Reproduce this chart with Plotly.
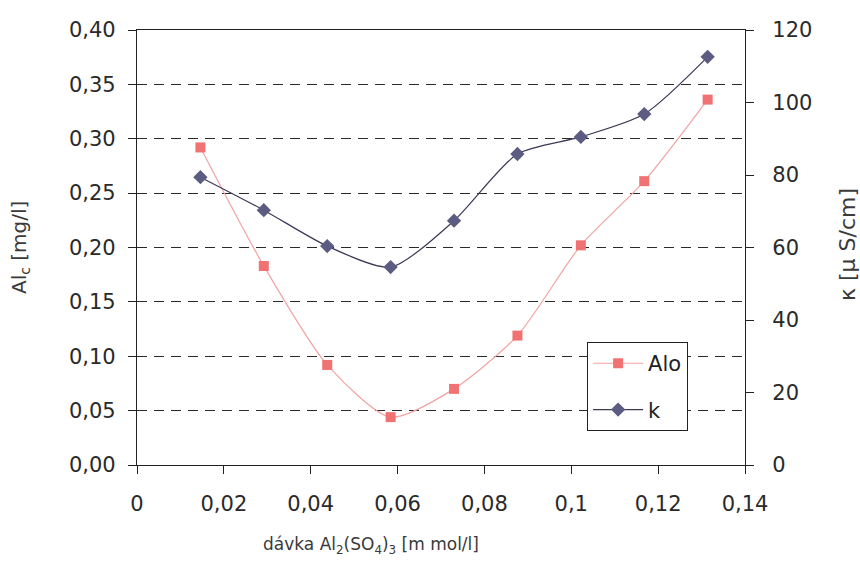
import plotly.graph_objects as go

dose = [0.0146, 0.0292, 0.0438, 0.0584, 0.0730, 0.0876, 0.1022, 0.1168, 0.1314]
alo = [0.292, 0.183, 0.092, 0.044, 0.070, 0.119, 0.202, 0.261, 0.336]
kappa = [79.4, 70.3, 60.4, 54.6, 67.4, 85.8, 90.5, 96.8, 112.6]

x_ticks = [0, 0.02, 0.04, 0.06, 0.08, 0.1, 0.12, 0.14]
x_labels = ["0", "0,02", "0,04", "0,06", "0,08", "0,1", "0,12", "0,14"]
y_ticks = [0, 0.05, 0.10, 0.15, 0.20, 0.25, 0.30, 0.35, 0.40]
y_labels = ["0,00", "0,05", "0,10", "0,15", "0,20", "0,25", "0,30", "0,35", "0,40"]
y2_ticks = [0, 20, 40, 60, 80, 100, 120]

FONT = "DejaVu Sans, sans-serif"
TICKC = "#2a2a2a"
TITLEC = "#3a3a3a"

fig = go.Figure()
fig.add_trace(go.Scatter(
    x=dose, y=alo, name="Alo", mode="lines+markers", legendgroup="a",
    line=dict(color="#F2A3A3", width=1.2, shape="spline", smoothing=0.7),
    marker=dict(symbol="square", size=10, color="#F07272"),
    yaxis="y"))
fig.add_trace(go.Scatter(
    x=dose, y=kappa, name="k", mode="lines+markers", legendgroup="b",
    line=dict(color="#3A3A56", width=1.2, shape="spline", smoothing=0.7),
    marker=dict(symbol="diamond", size=11, color="#5C5C82"),
    yaxis="y2"))

fig.update_layout(
    width=860, height=568,
    margin=dict(l=137, r=115, t=30, b=103),
    paper_bgcolor="white", plot_bgcolor="white",
    font=dict(family=FONT, size=21, color=TICKC),
    showlegend=True,
    legend=dict(x=0.74, y=0.283, xanchor="left", yanchor="top",
                bgcolor="white", bordercolor="#222222", borderwidth=1.2,
                font=dict(family=FONT, size=21, color="#222222"),
                tracegroupgap=16, itemwidth=50,
                entrywidth=144, entrywidthmode="pixels"),
    xaxis=dict(range=[0, 0.14], tickvals=x_ticks, ticktext=x_labels,
               showgrid=False, zeroline=False, showline=True, mirror=True,
               linecolor="#222222", linewidth=1.2,
               ticks="outside", ticklen=8, tickcolor="#222222",
               ticklabelstandoff=12),
    yaxis=dict(range=[0, 0.40], tickvals=y_ticks, ticktext=y_labels,
               showgrid=True, gridcolor="#2a2a2a", griddash="10px,7px", gridwidth=1.2,
               zeroline=False, showline=True, linecolor="#222222", linewidth=1.2,
               ticks="outside", ticklen=8, tickcolor="#222222",
               ticklabelstandoff=8),
    yaxis2=dict(range=[0, 120], tickvals=y2_ticks, overlaying="y", side="right",
                showgrid=False, zeroline=False, showline=True,
                linecolor="#222222", linewidth=1.2,
                ticks="outside", ticklen=8, tickcolor="#222222",
                ticklabelstandoff=14),
    annotations=[
        dict(text="dávka Al<sub>2</sub>(SO<sub>4</sub>)<sub>3</sub> [m mol/l]",
             xref="paper", yref="paper", x=(371 - 137) / 608, y=(465 - 545) / 435,
             xanchor="center", yanchor="middle", showarrow=False,
             font=dict(family=FONT, size=17, color=TITLEC)),
        dict(text="Al<sub>c</sub> [mg/l]", textangle=-90,
             xref="paper", yref="paper", x=(20 - 137) / 608, y=(465 - 248) / 435,
             xanchor="center", yanchor="middle", showarrow=False,
             font=dict(family=FONT, size=20, color=TITLEC)),
        dict(text="κ [µ S/cm]", textangle=-90,
             xref="paper", yref="paper", x=(848 - 137) / 608, y=(465 - 245) / 435,
             xanchor="center", yanchor="middle", showarrow=False,
             font=dict(family=FONT, size=22, color=TITLEC)),
    ],
)

fig.write_html("out.html")
